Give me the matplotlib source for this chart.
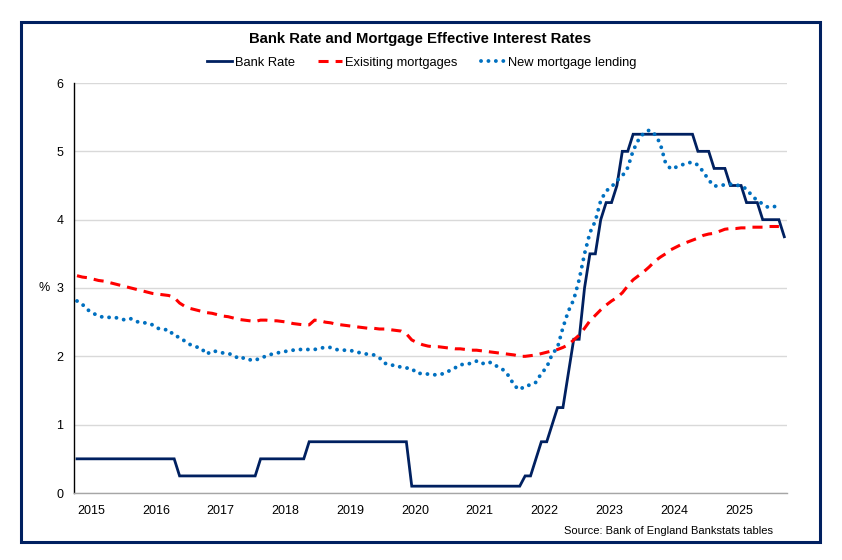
import numpy as np
import matplotlib
matplotlib.use("Agg")
import matplotlib.pyplot as plt
from matplotlib.patches import Rectangle

plt.rcParams['font.family'] = ['Liberation Sans', 'DejaVu Sans']

# monthly data, Jan 2015 onwards
bank_rate = ([0.5] * 12 +
             [0.5] * 7 + [0.25] * 5 +
             [0.25] * 10 + [0.5] * 2 +
             [0.5] * 7 + [0.75] * 5 +
             [0.75] * 12 +
             [0.75] * 2 + [0.1] * 10 +
             [0.1] * 11 + [0.25] +
             [0.25, 0.5, 0.75, 0.75, 1.0, 1.25, 1.25, 1.75, 2.25, 2.25, 3.0, 3.5] +
             [3.5, 4.0, 4.25, 4.25, 4.5, 5.0, 5.0] + [5.25] * 5 +
             [5.25] * 7 + [5.0] * 3 + [4.75] * 2 +
             [4.75, 4.5, 4.5, 4.5, 4.25, 4.25, 4.25, 4.0, 4.0, 4.0, 4.0, 3.75])

existing = [3.18, 3.16, 3.15, 3.13, 3.11, 3.10, 3.08, 3.06, 3.04, 3.02, 3.00, 2.98,
            2.96, 2.94, 2.92, 2.91, 2.90, 2.89, 2.86, 2.78, 2.73, 2.70, 2.68, 2.66,
            2.64, 2.63, 2.61, 2.59, 2.58, 2.56, 2.54, 2.53, 2.52, 2.51, 2.53, 2.53,
            2.52, 2.52, 2.51, 2.50, 2.48, 2.47, 2.46, 2.46, 2.53, 2.52, 2.50, 2.49,
            2.47, 2.46, 2.45, 2.44, 2.43, 2.42, 2.41, 2.41, 2.40, 2.40, 2.39, 2.38,
            2.37, 2.33, 2.24, 2.20, 2.17, 2.15, 2.14, 2.14, 2.13, 2.12, 2.11, 2.11,
            2.10, 2.09, 2.09, 2.08, 2.07, 2.06, 2.05, 2.04, 2.03, 2.02, 2.00, 2.00,
            2.01, 2.02, 2.04, 2.06, 2.08, 2.10, 2.13, 2.17, 2.24, 2.31, 2.41, 2.52,
            2.60, 2.68, 2.75, 2.81, 2.86, 2.93, 3.03, 3.12, 3.18, 3.24, 3.31, 3.39,
            3.45, 3.50, 3.56, 3.60, 3.64, 3.67, 3.70, 3.73, 3.77, 3.79, 3.80, 3.83,
            3.86, 3.87, 3.87, 3.88, 3.88, 3.89, 3.89, 3.89, 3.90, 3.90, 3.90]

new_lending = [2.81, 2.76, 2.68, 2.63, 2.59, 2.57, 2.57, 2.57, 2.55, 2.53, 2.55, 2.51,
               2.49, 2.49, 2.46, 2.41, 2.39, 2.39, 2.30, 2.28, 2.22, 2.17, 2.14, 2.12,
               2.03, 2.08, 2.07, 2.05, 2.04, 2.02, 1.96, 1.98, 1.95, 1.94, 1.98, 2.00,
               2.03, 2.05, 2.06, 2.08, 2.09, 2.10, 2.10, 2.10, 2.10, 2.12, 2.13, 2.13,
               2.10, 2.09, 2.09, 2.08, 2.06, 2.04, 2.03, 2.02, 1.98, 1.90, 1.87, 1.87,
               1.84, 1.83, 1.82, 1.75, 1.75, 1.74, 1.73, 1.73, 1.75, 1.79, 1.83, 1.88,
               1.88, 1.90, 1.93, 1.89, 1.92, 1.90, 1.84, 1.80, 1.71, 1.57, 1.51, 1.57,
               1.58, 1.62, 1.75, 1.84, 2.03, 2.13, 2.42, 2.66, 2.83, 3.12, 3.50, 3.81,
               3.98, 4.28, 4.42, 4.48, 4.57, 4.64, 4.76, 5.01, 5.17, 5.27, 5.31, 5.25,
               5.12, 4.83, 4.74, 4.77, 4.80, 4.83, 4.84, 4.80, 4.70, 4.58, 4.49, 4.50,
               4.51, 4.52, 4.51, 4.49, 4.45, 4.35, 4.28, 4.23, 4.18, 4.19, 4.20]

years = [str(y) for y in range(2015, 2026)]

navy = '#002060'
red = '#ff0000'
blue = '#0070c0'

fig = plt.figure(figsize=(8.42, 5.6), dpi=100)
ax = fig.add_axes([74.3 / 842, 1 - 493 / 560, 712.7 / 842, 410 / 560])

ax.plot(np.arange(len(bank_rate)), bank_rate, color=navy, lw=2.0,
        solid_joinstyle='miter', label='Bank Rate')
ax.plot(np.arange(len(existing)), existing, color=red, lw=2.2,
        linestyle=(0, (3.3, 2.3)), label='Exisiting mortgages')
ax.plot(np.arange(len(new_lending)), new_lending, color=blue, lw=2.8,
        linestyle=(0, (0.01, 1.9)), dash_capstyle='round', label='New mortgage lending')

ax.set_xlim(-0.5, 131.5)
ax.set_ylim(0, 6)
ax.set_yticks(range(0, 7))
ax.set_xticks(np.arange(len(years)) * 12 + 2.6)
ax.set_xticklabels(years)
ax.tick_params(axis='both', length=0, labelsize=9, colors='black')
ax.tick_params(axis='y', pad=8)
ax.tick_params(axis='x', pad=9)
ax.grid(axis='y', color='#d9d9d9', lw=1)
ax.set_axisbelow(True)
for s in ['top', 'right']:
    ax.spines[s].set_visible(False)
ax.spines['left'].set_color('black')
ax.spines['left'].set_linewidth(1)
ax.spines['bottom'].set_color('#a6a6a6')
ax.spines['bottom'].set_linewidth(1)

ax.set_ylabel('%', rotation=0, fontsize=9, va='center', ha='right')
ax.yaxis.set_label_coords(-0.035, 0.5)

fig.text(420 / 842, 1 - 39 / 560, 'Bank Rate and Mortgage Effective Interest Rates',
         ha='center', va='center', fontsize=10.7, fontweight='bold')
fig.legend(loc='center', bbox_to_anchor=(421.7 / 842, 1 - 63 / 560), ncol=3,
           frameon=False, fontsize=9.3, handlelength=1.9, handletextpad=0.2,
           columnspacing=1.8)
fig.text(773 / 842, 1 - 531 / 560, 'Source: Bank of England Bankstats tables',
         ha='right', va='center', fontsize=8)

fig.patches.append(Rectangle((21 / 842, 1 - 542 / 560), 799 / 842, 520 / 560,
                             transform=fig.transFigure, fill=False,
                             edgecolor=navy, lw=2.2))

fig.savefig('out.png', dpi=100)
